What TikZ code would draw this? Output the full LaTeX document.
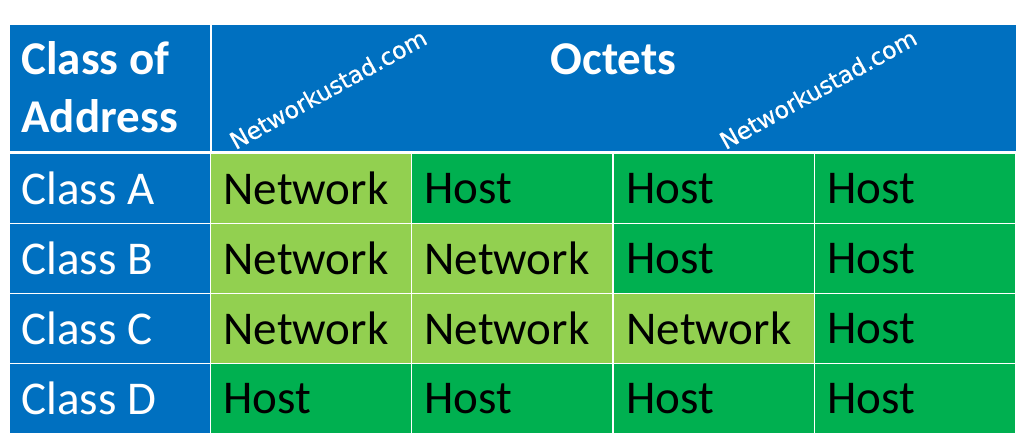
\documentclass[tikz,border=0pt]{standalone}
\usepackage{fontspec}
\setmainfont{Carlito}
\newfontfamily\markfont[FakeBold=0.5]{DejaVu Sans}
\definecolor{headblue}{RGB}{0,112,192}
\definecolor{netgreen}{RGB}{146,208,80}
\definecolor{hostgreen}{RGB}{0,176,80}
\usetikzlibrary{positioning}
\begin{document}
\begin{tikzpicture}
 [x=1pt,y=-1pt,
 cellbox/.style={rectangle,draw=white,line width=1pt,minimum height=70pt,minimum width=201pt,inner sep=0pt,outer sep=0pt,text width=175pt,align=flush left,font=\fontsize{47}{47}\selectfont},
 classcell/.style={cellbox,fill=headblue,text=white,text width=177pt},
 net/.style={cellbox,fill=netgreen,text=black},
 host/.style={cellbox,fill=hostgreen,text=black},
 headcell/.style={rectangle,fill=headblue,draw=white,line width=1pt,minimum height=127pt,inner sep=0pt,outer sep=0pt,text=white,font=\fontsize{47}{58}\selectfont\bfseries},
 stamp/.style={text=white,rotate=29,font=\fontsize{23.5}{23.5}\selectfont\markfont}]
 \useasboundingbox (0,0) rectangle (1024,442);
 \node[headcell,minimum width=201pt,text width=177pt,align=flush left] (addr) at (110,87.5) {Class of\\Address};
 \node[headcell,minimum width=805pt,align=center] (oct) at (613.5,87.5) {};
 \node[text=white,font=\fontsize{47}{47}\selectfont\bfseries] (octets) at (613.5,59.5) {Octets};
 \node[stamp] (m1) at (328,89) {Networkustad.com};
 \node[stamp] (m2) at (818,89) {Networkustad.com};
 % row A
 \node[classcell] (ca) at (110,188.5) {Class A};
 \node[net] (a1) at (311,188.5) {Network};
 \node[host] (a2) at (512,188.5) {Host};
 \node[host] (a3) at (714,188.5) {Host};
 \node[host] (a4) at (915,188.5) {Host};
 % row B
 \node[classcell] (cb) at (110,258.5) {Class B};
 \node[net] (b1) at (311,258.5) {Network};
 \node[net] (b2) at (512,258.5) {Network};
 \node[host] (b3) at (714,258.5) {Host};
 \node[host] (b4) at (915,258.5) {Host};
 % row C
 \node[classcell] (cc) at (110,328.5) {Class C};
 \node[net] (c1) at (311,328.5) {Network};
 \node[net] (c2) at (512,328.5) {Network};
 \node[net] (c3) at (714,328.5) {Network};
 \node[host] (c4) at (915,328.5) {Host};
 % row D
 \node[classcell] (cd) at (110,398.5) {Class D};
 \node[host] (d1) at (311,398.5) {Host};
 \node[host] (d2) at (512,398.5) {Host};
 \node[host] (d3) at (714,398.5) {Host};
 \node[host] (d4) at (915,398.5) {Host};
\end{tikzpicture}
\end{document}
